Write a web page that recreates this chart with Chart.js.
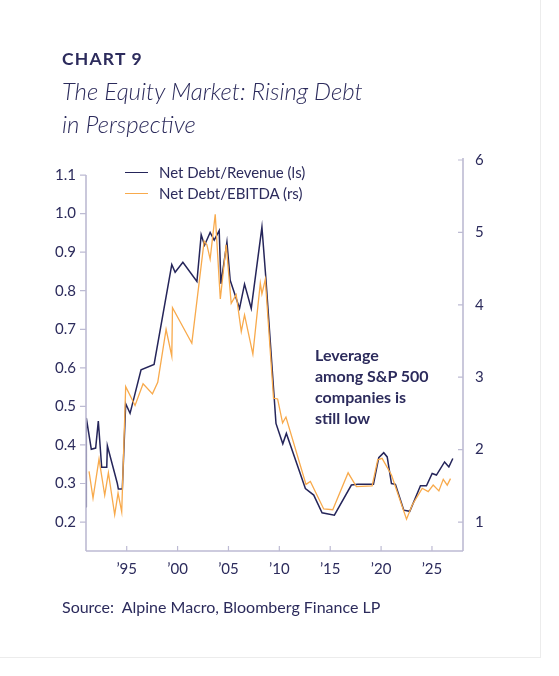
<!DOCTYPE html>
<html>
<head>
<meta charset="utf-8">
<script src="https://cdn.jsdelivr.net/npm/chart.js@4.4.1/dist/chart.umd.min.js"></script>
<style>
  html, body { margin:0; padding:0; background:#fff; overflow:hidden; }
  body { width:559px; height:676px; position:relative; font-family:Lato, "Open Sans", sans-serif; color:#2c2b5c; }
  #panel { position:absolute; left:-2px; top:-2px; width:543px; height:660px; box-sizing:border-box; border:1px solid #ececec; }
  #c { position:absolute; left:0; top:0; }
  .t { position:absolute; white-space:nowrap; line-height:1.2; }
  #kicker { left:62px; top:48px; font-size:17.5px; font-weight:700; letter-spacing:1.2px; }
  #title { left:62px; top:74px; font-size:24px; font-weight:300; font-style:italic; line-height:33px; }
  .leg { position:absolute; font-size:15px; line-height:18px; white-space:nowrap; }
  .leg span.ln { position:absolute; left:-34px; top:9px; width:23px; height:0; border-top:1.4px solid; }
  #note { left:315px; top:344px; font-size:16px; font-weight:700; line-height:21px; }
  #source { left:62px; top:597px; font-size:16px; }
</style>
</head>
<body>
<div id="panel"></div>
<canvas id="c" width="559" height="676"></canvas>
<div class="t" id="kicker">CHART 9</div>
<div class="t" id="title">The Equity Market: Rising Debt<br>in Perspective</div>
<div class="leg" style="left:159px; top:163px;"><span class="ln" style="border-color:#25255a"></span>Net Debt/Revenue (ls)</div>
<div class="leg" style="left:159px; top:184px;"><span class="ln" style="border-color:#f8aa4c"></span>Net Debt/EBITDA (rs)</div>
<div class="t" id="note">Leverage<br>among S&amp;P 500<br>companies is<br>still low</div>
<div class="t" id="source">Source:&nbsp; Alpine Macro, Bloomberg Finance LP</div>
<script>
// ---- Data ----
const revenueYears = [1991.0, 1991.03, 1991.52, 1991.95, 1992.21, 1992.54, 1993.04, 1993.1, 1994.08, 1994.18, 1994.57, 1994.9, 1995.33, 1996.41, 1997.69, 1999.43, 1999.76, 2000.52, 2001.9, 2002.32, 2002.65, 2003.2, 2003.6, 2004.09, 2004.26, 2004.85, 2005.17, 2006.09, 2006.58, 2007.24, 2008.29, 2008.68, 2009.67, 2010.34, 2010.69, 2012.56, 2013.38, 2014.2, 2015.41, 2017.08, 2017.71, 2019.25, 2019.77, 2020.26, 2020.6, 2021.02, 2021.41, 2022.23, 2022.82, 2023.87, 2024.46, 2025.02, 2025.44, 2026.24, 2026.66, 2027.05];
const revenueValues = [0.24, 0.47, 0.389, 0.392, 0.462, 0.342, 0.342, 0.398, 0.300, 0.286, 0.286, 0.507, 0.482, 0.595, 0.609, 0.868, 0.848, 0.874, 0.824, 0.945, 0.918, 0.951, 0.931, 0.956, 0.818, 0.926, 0.827, 0.754, 0.817, 0.754, 0.965, 0.831, 0.456, 0.403, 0.43, 0.287, 0.27, 0.224, 0.218, 0.296, 0.298, 0.298, 0.367, 0.38, 0.369, 0.3, 0.298, 0.231, 0.228, 0.294, 0.294, 0.326, 0.322, 0.356, 0.343, 0.365];

const ebitdaYears = [1991.3, 1991.69, 1992.28, 1992.84, 1993.2, 1993.82, 1994.15, 1994.51, 1994.9, 1995.82, 1996.61, 1997.53, 1998.05, 1998.87, 1999.43, 1999.5, 2001.4, 2002.61, 2002.88, 2003.2, 2003.7, 2004.2, 2004.78, 2005.27, 2005.76, 2006.26, 2006.58, 2007.4, 2008.13, 2008.29, 2008.62, 2009.43, 2009.83, 2010.32, 2010.65, 2012.62, 2013.05, 2014.36, 2015.25, 2016.76, 2017.57, 2019.12, 2019.67, 2020.1, 2021.02, 2022.5, 2023.06, 2024.04, 2024.63, 2025.12, 2025.68, 2026.11, 2026.5, 2026.82];
const ebitdaValues = [1.70, 1.33, 1.87, 1.37, 1.68, 1.10, 1.40, 1.14, 2.87, 2.61, 2.91, 2.77, 2.93, 3.66, 3.29, 3.96, 3.47, 4.88, 4.83, 4.63, 5.25, 4.08, 4.83, 4.02, 4.14, 3.63, 3.86, 3.32, 4.30, 4.15, 4.35, 2.71, 2.70, 2.37, 2.45, 1.52, 1.56, 1.18, 1.17, 1.68, 1.49, 1.50, 1.86, 1.88, 1.65, 1.04, 1.235, 1.466, 1.42, 1.51, 1.43, 1.59, 1.51, 1.60];

const xTickYears = [1995, 2000, 2005, 2010, 2015, 2020, 2025];
const xTickLabels = ["\u201995", "\u201900", "\u201905", "\u201910", "\u201915", "\u201920", "\u201925"];
const leftTicks = [0.2, 0.3, 0.4, 0.5, 0.6, 0.7, 0.8, 0.9, 1.0, 1.1];
const leftTickLabels = ["0.2", "0.3", "0.4", "0.5", "0.6", "0.7", "0.8", "0.9", "1.0", "1.1"];
const rightTicks = [1, 2, 3, 4, 5, 6];
const rightTickLabels = ["1", "2", "3", "4", "5", "6"];

const NAVY = '#25255a';
const ORANGE = '#f8aa4c';
const AXIS = '#bdbbd3';
const TEXT = '#2c2b5c';

const revenueData = revenueYears.map((x, i) => ({ x, y: revenueValues[i] }));
const ebitdaData = ebitdaYears.map((x, i) => ({ x, y: ebitdaValues[i] }));

const axisPlugin = {
  id: 'axisPlugin',
  afterDraw(chart) {
    const { ctx, chartArea: a, scales } = chart;
    const yl = scales.yLeft, yr = scales.yRight, x = scales.x;
    ctx.save();
    ctx.strokeStyle = AXIS;
    ctx.lineWidth = 1.6;
    ctx.beginPath();
    const lTop = yl.getPixelForValue(1.1);
    ctx.moveTo(a.left, lTop); ctx.lineTo(a.left, a.bottom);
    ctx.moveTo(a.left, a.bottom); ctx.lineTo(a.right, a.bottom);
    ctx.moveTo(a.right, a.top - 2); ctx.lineTo(a.right, a.bottom);
    ctx.stroke();
    ctx.lineWidth = 1.2;
    ctx.beginPath();
    leftTicks.forEach(v => { const p = yl.getPixelForValue(v); ctx.moveTo(a.left - 6, p); ctx.lineTo(a.left, p); });
    rightTicks.forEach(v => { const p = yr.getPixelForValue(v); ctx.moveTo(a.right - 5, p); ctx.lineTo(a.right, p); });
    xTickYears.forEach(v => { const p = x.getPixelForValue(v); ctx.moveTo(p, a.bottom - 5); ctx.lineTo(p, a.bottom); });
    ctx.stroke();
    ctx.restore();
  }
};

const tickFont = { family: 'Lato', size: 15 };

new Chart(document.getElementById('c'), {
  type: 'line',
  data: {
    datasets: [
      { label: 'Net Debt/EBITDA (rs)', data: ebitdaData, yAxisID: 'yRight', borderColor: ORANGE, borderWidth: 1.3, pointRadius: 0, tension: 0, fill: false },
      { label: 'Net Debt/Revenue (ls)', data: revenueData, yAxisID: 'yLeft', borderColor: NAVY, borderWidth: 1.5, pointRadius: 0, tension: 0, fill: false }
    ]
  },
  options: {
    responsive: false,
    animation: false,
    events: [],
    layout: { padding: { top: 160, left: 0, right: 0, bottom: 0 } },
    plugins: { legend: { display: false }, tooltip: { enabled: false } },
    scales: {
      x: {
        type: 'linear', min: 1991.0, max: 2028.05,
        grid: { display: false, drawTicks: false },
        border: { display: false },
        afterBuildTicks(s) { s.ticks = xTickYears.map(v => ({ value: v })); },
        afterFit(s) { s.height = 125; },
        ticks: { color: TEXT, font: tickFont, padding: 9, maxRotation: 0, autoSkip: false,
          callback(v) { const i = xTickYears.indexOf(v); return i >= 0 ? xTickLabels[i] : ''; } }
      },
      yLeft: {
        type: 'linear', position: 'left', min: 0.125, max: 1.139,
        grid: { display: false, drawTicks: false },
        border: { display: false },
        afterBuildTicks(s) { s.ticks = leftTicks.map(v => ({ value: v })); },
        afterFit(s) { s.width = 86; },
        ticks: { color: TEXT, font: tickFont, padding: 10, autoSkip: false,
          callback(v) { const i = leftTicks.findIndex(t => Math.abs(t - v) < 1e-9); return i >= 0 ? leftTickLabels[i] : ''; } }
      },
      yRight: {
        type: 'linear', position: 'right', min: 0.6, max: 6.0,
        grid: { display: false, drawTicks: false },
        border: { display: false },
        afterBuildTicks(s) { s.ticks = rightTicks.map(v => ({ value: v })); },
        afterFit(s) { s.width = 96; },
        ticks: { color: TEXT, font: tickFont, padding: 12, autoSkip: false,
          callback(v) { const i = rightTicks.indexOf(v); return i >= 0 ? rightTickLabels[i] : ''; } }
      }
    }
  },
  plugins: [axisPlugin]
});
</script>
</body>
</html>
